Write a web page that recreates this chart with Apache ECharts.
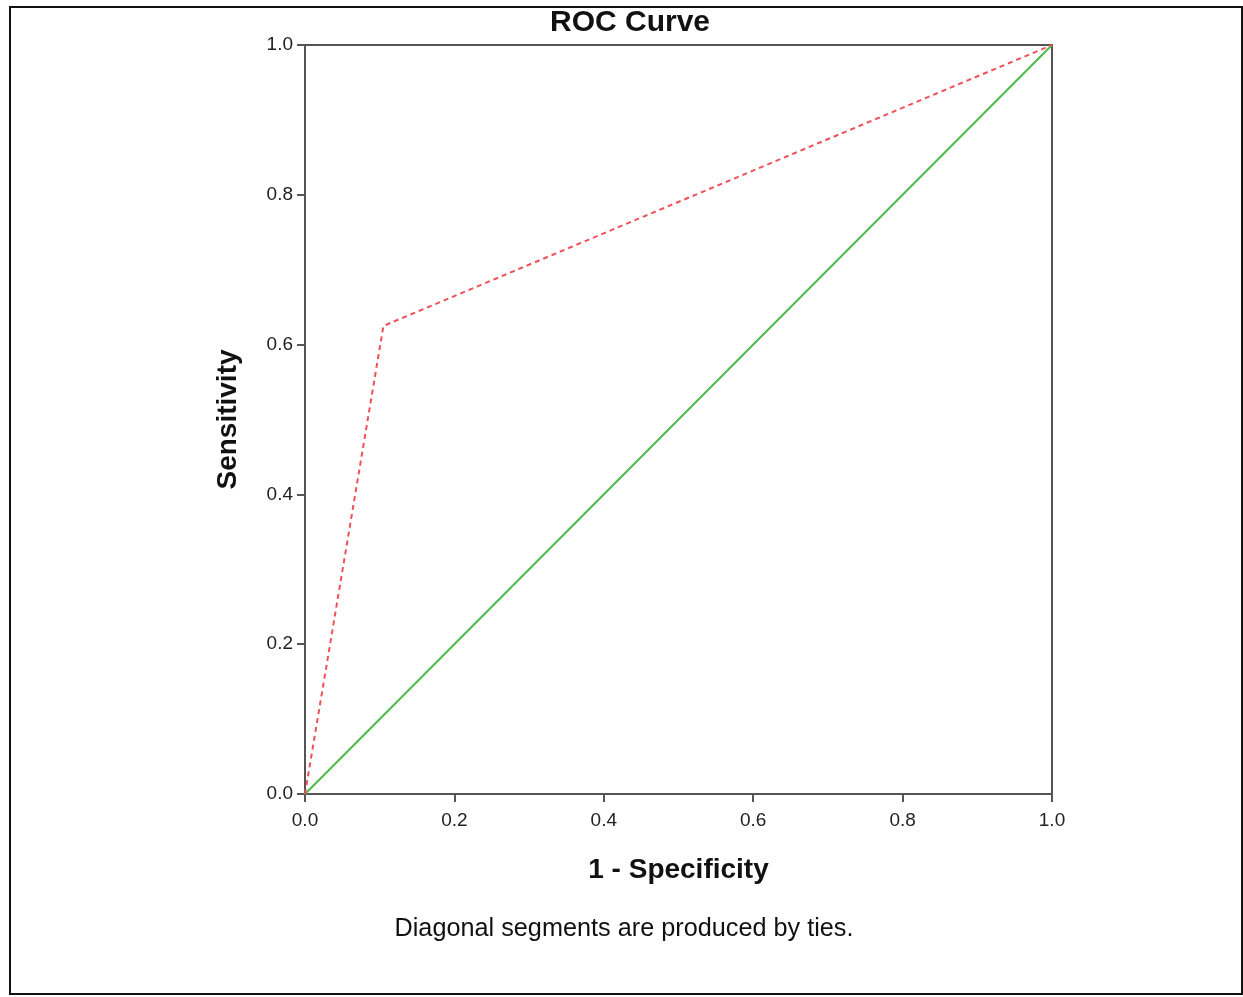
<!DOCTYPE html>
<html>
<head>
<meta charset="utf-8">
<script src="https://cdn.jsdelivr.net/npm/echarts@6/dist/echarts.min.js"></script>
<style>
  html, body { margin: 0; padding: 0; background: #fff; }
  #chart { width: 1243px; height: 997px; }
</style>
</head>
<body>
<div id="chart"></div>
<script>
// ROC curve data
const rocX = [0, 0.105, 1];
const rocY = [0, 0.625, 1];
const refX = [0, 1];
const refY = [0, 1];
const tickLabels = ['0.0', '0.2', '0.4', '0.6', '0.8', '1.0'];

const myChart = echarts.init(document.getElementById('chart'));
const axisCol = '#555';
const fam = '"Liberation Sans", Arial, sans-serif';
const labelFont = { fontFamily: fam, fontSize: 19, color: '#222' };

const option = {
  backgroundColor: '#fff',
  animation: false,
  title: {
    text: 'ROC Curve',
    left: 625,
    textAlign: 'center',
    top: 3,
    textStyle: { fontFamily: fam, fontSize: 30, fontWeight: 'bold', color: '#111' }
  },
  grid: {
    left: 305, top: 45, width: 747, height: 749,
    show: true, borderColor: axisCol, borderWidth: 2, backgroundColor: 'transparent'
  },
  xAxis: {
    type: 'value', min: 0, max: 1, interval: 0.2,
    name: '1 - Specificity', nameLocation: 'middle', nameGap: 62,
    nameTextStyle: { fontFamily: fam, fontSize: 28, fontWeight: 'bold', color: '#111' },
    axisLine: { show: true, lineStyle: { color: axisCol, width: 2 } },
    axisTick: { show: true, length: 8, lineStyle: { color: axisCol, width: 2 } },
    axisLabel: Object.assign({ margin: 17, formatter: (v) => tickLabels[Math.round(v * 5)] }, labelFont),
    splitLine: { show: false }
  },
  yAxis: {
    type: 'value', min: 0, max: 1, interval: 0.2,
    name: 'Sensitivity', nameLocation: 'middle', nameGap: 63, nameRotate: 90,
    nameTextStyle: { fontFamily: fam, fontSize: 28, fontWeight: 'bold', color: '#111' },
    axisLine: { show: true, lineStyle: { color: axisCol, width: 2 } },
    axisTick: { show: true, length: 8, lineStyle: { color: axisCol, width: 2 } },
    axisLabel: Object.assign({ margin: 12, formatter: (v) => tickLabels[Math.round(v * 5)] }, labelFont),
    splitLine: { show: false }
  },
  series: [
    {
      type: 'line',
      data: refX.map((x, i) => [x, refY[i]]),
      symbol: 'none',
      lineStyle: { color: '#4cbb4c', width: 2 }
    },
    {
      type: 'line',
      data: rocX.map((x, i) => [x, rocY[i]]),
      symbol: 'none',
      lineStyle: { color: '#f0505a', width: 2, type: [5, 4] }
    }
  ],
  graphic: [
    {
      type: 'rect',
      shape: { x: 10, y: 7, width: 1232, height: 987 },
      style: { fill: 'none', stroke: '#111', lineWidth: 2 },
      silent: true
    },
    {
      type: 'text',
      x: 624, y: 929,
      scaleX: 1.01,
      style: {
        text: 'Diagonal segments are produced by ties.',
        font: '25px "Liberation Sans", Arial, sans-serif',
        fill: '#111',
        align: 'center',
        verticalAlign: 'middle'
      }
    }
  ]
};
option && myChart.setOption(option);
</script>
</body>
</html>
